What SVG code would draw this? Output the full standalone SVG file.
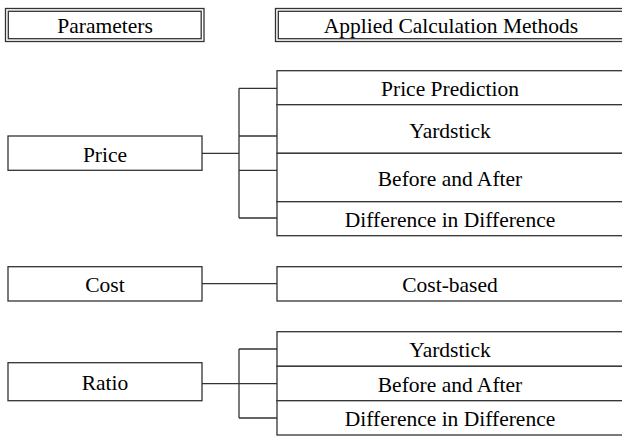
<svg xmlns="http://www.w3.org/2000/svg" width="622" height="437" viewBox="0 0 622 437">
<style>
.b{fill:#fff;stroke:#333;stroke-width:1.3}
.c{fill:none;stroke:#333;stroke-width:1.3}
text{font-family:'Liberation Serif','Times New Roman','DejaVu Serif',serif;font-size:21.5px;fill:#000;text-anchor:middle}
</style>
<rect width="622" height="437" fill="#fff"/>
<g id="hdr-params">
<rect class="b" x="5.5" y="8.5" width="198.5" height="33"/>
<rect class="b" x="8.3" y="11.3" width="192.9" height="27.4"/>
<text x="105" y="33" font-family="Liberation Serif, serif">Parameters</text>
</g>
<g id="hdr-methods">
<rect class="b" x="275.5" y="8.5" width="360" height="33"/>
<rect class="b" x="278.3" y="11.3" width="354" height="27.4"/>
<text x="451" y="33">Applied Calculation Methods</text>
</g>
<g id="connectors">
<path class="c" d="M202 153.3H239M239 88.3V218M239 88.3H277M239 136H277M239 170.3H277M239 218H277"/>
<path class="c" d="M202 283.7H277"/>
<path class="c" d="M202 383.7H239M239 349V418M239 349H277M239 383.7H277M239 418H277"/>
</g>
<g id="price">
<rect class="b" x="8" y="136" width="194" height="34.3"/>
<text x="105" y="161.5">Price</text>
</g>
<g id="cost">
<rect class="b" x="8" y="266.7" width="194" height="34.3"/>
<text x="105" y="292">Cost</text>
</g>
<g id="ratio">
<rect class="b" x="8" y="362.7" width="194" height="38"/>
<text x="105" y="390">Ratio</text>
</g>
<g id="price-prediction">
<rect class="b" x="277" y="70.7" width="347" height="34"/>
<text x="450" y="96">Price Prediction</text>
</g>
<g id="price-yardstick">
<rect class="b" x="277" y="104.7" width="347" height="48.6"/>
<text x="450" y="137.5">Yardstick</text>
</g>
<g id="price-before-after">
<rect class="b" x="277" y="153.3" width="347" height="48.4"/>
<text x="450" y="186">Before and After</text>
</g>
<g id="price-did">
<rect class="b" x="277" y="201.7" width="347" height="34"/>
<text x="450" y="227">Difference in Difference</text>
</g>
<g id="cost-based">
<rect class="b" x="277" y="266.7" width="347" height="34.3"/>
<text x="450" y="292">Cost-based</text>
</g>
<g id="ratio-yardstick">
<rect class="b" x="277" y="331.7" width="347" height="34.6"/>
<text x="450" y="357">Yardstick</text>
</g>
<g id="ratio-before-after">
<rect class="b" x="277" y="366.3" width="347" height="34.4"/>
<text x="450" y="391.5">Before and After</text>
</g>
<g id="ratio-did">
<rect class="b" x="277" y="400.7" width="347" height="34.3"/>
<text x="450" y="426">Difference in Difference</text>
</g>
</svg>
